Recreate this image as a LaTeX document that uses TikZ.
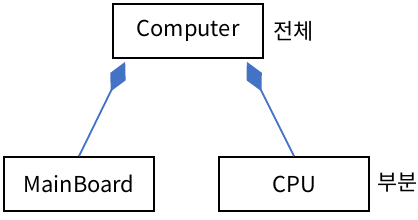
\documentclass[tikz,border=0pt]{standalone}
\usepackage{fontspec}
\setmainfont{Noto Sans CJK KR}
\usepackage{tikz}
\usetikzlibrary{arrows.meta, positioning, calc}
\definecolor{umlblue}{HTML}{4472C4}

\tikzset{
    classbox/.style={draw, line width=1.6bp, minimum width=150bp, minimum height=54bp, font=\fontsize{22}{24}\selectfont, inner sep=0pt},
    composition/.style={draw=umlblue, line width=1.8bp, -{Diamond[length=33bp, width=17bp, fill=umlblue]}},
    note/.style={font=\fontsize{22}{24}\selectfont, anchor=west, inner sep=0pt}
}

\begin{document}
\begin{tikzpicture}[x=1bp, y=-1bp]
    \useasboundingbox (0, 0) rectangle (418, 220);

    % Classes
    \node[classbox] (computer) at (188, 31) {Computer};
    \node[classbox] (mainboard) at (79, 184) {MainBoard};
    \node[classbox] (cpu) at (294, 184) {CPU};

    % Labels
    \node[note] (whole) at (273, 31) {전체};
    \node[note] (part) at (377, 183) {부분};

    % Composition
    \coordinate (leftend) at ([xshift=13bp, yshift=-3bp]computer.south west);
    \coordinate (rightend) at ([xshift=-17bp, yshift=-3bp]computer.south east);
    \draw[composition] (mainboard.north) -- (leftend);
    \draw[composition] (cpu.north) -- (rightend);
\end{tikzpicture}
\end{document}
